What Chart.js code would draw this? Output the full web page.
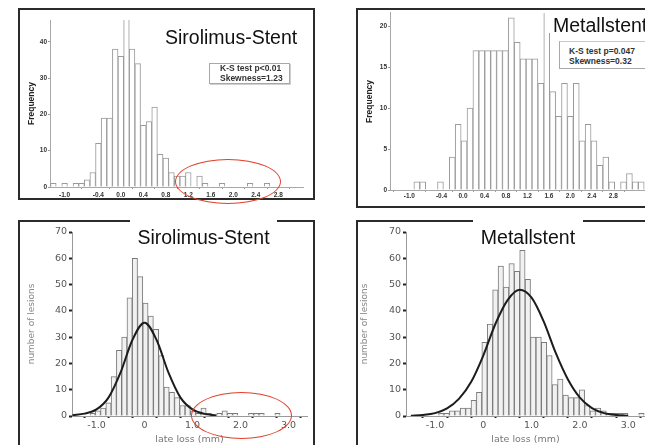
<!DOCTYPE html>
<html>
<head>
<meta charset="utf-8">
<script src="https://cdn.jsdelivr.net/npm/chart.js@4.4.1/dist/chart.umd.min.js"></script>
<style>
body { margin: 0; background: #fff; }
#page { position: relative; width: 645px; height: 445px; overflow: hidden; font-family: "Liberation Sans", Arial, sans-serif; }
.frame { position: absolute; border: 2px solid #2b2b2b; box-sizing: border-box; }
canvas { position: absolute; }
.title { position: absolute; font-size: 19.5px; line-height: 20px; color: #111; white-space: nowrap; box-sizing: border-box; }
.ks { position: absolute; font-size: 8.5px; font-weight: bold; line-height: 9.5px; color: #333; background: #fff; white-space: nowrap; box-sizing: border-box; }
.oval { position: absolute; border: 1px solid #e2402a; border-radius: 50%; box-sizing: border-box; }
</style>
</head>
<body>
<div id="page">
  <div class="frame" style="left:18px;top:8px;width:297px;height:192px"></div>
  <div class="frame" style="left:356px;top:8px;width:300px;height:200px"></div>
  <div class="frame" style="left:18px;top:220px;width:297px;height:240px"></div>
  <div class="frame" style="left:356px;top:220px;width:300px;height:240px"></div>

  <canvas id="tl" width="296" height="191" style="left:18px;top:8px"></canvas>
  <canvas id="tr" width="289" height="199" style="left:356px;top:8px"></canvas>
  <canvas id="bl" width="296" height="225" style="left:18px;top:220px"></canvas>
  <canvas id="br" width="289" height="225" style="left:356px;top:220px"></canvas>

  <div class="title" style="left:165px;top:27px">Sirolimus-Stent</div>
  <div class="title" style="left:548px;top:10px;width:100px;height:23px;padding:5px 0 0 5px;background:#fff">Metallstent</div>
  <div class="title" style="left:130px;top:214px;width:147px;height:32px;padding-top:13px;text-align:center;background:#fff">Sirolimus-Stent</div>
  <div class="title" style="left:473px;top:214px;width:110px;height:32px;padding-top:13px;text-align:center;background:#fff">Metallstent</div>

  <div class="ks" style="left:209px;top:63px;width:81px;height:21px;padding:0 0 0 10px;border:1px solid #a8a8a8;box-shadow:1px 1px 0 #d0d0d0">K-S test p&lt;0.01<br>Skewness=1.23</div>
  <div class="ks" style="left:559px;top:41px;width:90px;height:28px;padding:5px 0 0 9px;border-left:1px solid #a8a8a8;border-top:1px solid #c8c8c8;border-bottom:1px solid #a8a8a8">K-S test p=0.047<br>Skewness=0.32</div>

  <div class="oval" style="left:175px;top:159px;width:106px;height:45px"></div>
  <div class="oval" style="left:191px;top:392px;width:101px;height:47px"></div>
</div>

<script>
// top row: frequency histograms (bin start, bin width, counts)
const tlStart = -1.2
const tlStep = 0.1
const tlCounts = [1,0,1,0,1,1,2,4,12,19,19,38,36,50,38,34,17,18,22,9,8,4,3,3,4,0,3,1,0,0,1,0,0,0,0,1,0,0,1]

const trStart = -0.86
const trStep = 0.11
const trCounts = [1,1,0,0,1,0,4,8,6,10,17,17,17,17,17,17,21,18,16,16,16,13,23,12,9,13,9,13,6,8,6,3,4,1,0,1,2,1,1]

const topXTicks = [-1.0, -0.4, 0.0, 0.4, 0.8, 1.2, 1.6, 2.0, 2.4, 2.8]
const tlYTicks = [0, 10, 20, 30, 40]
const trYTicks = [0, 5, 10, 15, 20]

// bottom row: number of lesions over late loss, with the fitted curve
const blStart = -1.08
const blStep = 0.11
const blCounts = [1,2,3,5,15,25,30,45,60,53,43,38,33,23,11,9,7,4,4,2,1,3,1,0,1,2,1,1,0,0,1,1,1,0,0,1]
const blCurveX = [-1.5,-1.25,-1.0,-0.75,-0.5,-0.25,0,0.25,0.5,0.75,1.0,1.25,1.5]
const blCurveY = [0.3,0.9,2.5,7,16.5,29,35.5,29,16.5,7,2.5,0.8,0.2]

const brStart = -0.87
const brStep = 0.112
const brCounts = [1,1,2,2,3,3,6,9,28,35,48,57,49,58,55,63,52,30,30,28,23,12,14,8,7,7,10,4,2,3,2,1,1,1,1,0,0,1]
const brCurveX = [-1.5,-1.25,-1.0,-0.75,-0.5,-0.25,0,0.25,0.5,0.75,1.0,1.25,1.5,1.75,2.0,2.25,2.5,2.75,3.0]
const brCurveY = [0.1,0.4,1.1,2.9,6.6,13,23,35,44,48,45,36,24,14,7,3,1.1,0.4,0.1]

const lowXTicks = [-1.5, -1.0, -0.5, 0, 0.5, 1.0, 1.5, 2.0, 2.5, 3.0]
const lowYTicks = [0, 10, 20, 30, 40, 50, 60, 70]


const smallBold = {family: '"Liberation Sans", Arial, sans-serif', size: 6.5, weight: 'bold'}
const lowFont = {family: '"DejaVu Sans", Verdana, sans-serif', size: 9.5}

function histChart(id, p) {
  let datasets = []
  if (p.curveX) {
    datasets.push({
      type: 'line',
      data: p.curveX.map((x, i) => ({x: x, y: p.curveY[i]})),
      borderColor: '#1c1c1c',
      borderWidth: 2,
      pointRadius: 0,
      cubicInterpolationMode: 'monotone',
      order: 0
    })
  }
  datasets.push({
    type: 'bar',
    data: p.counts.map((c, i) => ({x: p.start + i * p.step, y: c})),
    backgroundColor: p.fill,
    borderColor: p.edge,
    borderWidth: 1,
    barPercentage: 1,
    categoryPercentage: 1,
    order: 1
  })

  return new Chart(document.getElementById(id), {
    type: 'bar',
    data: {datasets: datasets},
    options: {
      responsive: false,
      animation: false,
      devicePixelRatio: 1,
      events: [],
      layout: {padding: p.pad},
      plugins: {legend: {display: false}, tooltip: {enabled: false}},
      scales: {
        x: {
          type: 'linear',
          min: p.xMin,
          max: p.xMax,
          offset: false,
          afterBuildTicks: s => { s.ticks = p.xTicks.map(v => ({value: v})) },
          afterFit: s => { s.height = p.xH },
          border: {color: p.axisColor, width: 1},
          grid: {drawOnChartArea: false, tickLength: p.xTickLen, tickWidth: p.xTickW, tickColor: p.tickColor},
          ticks: {autoSkip: false, maxRotation: 0, padding: p.xPad, color: p.labelColor, font: p.font, callback: p.xFmt},
          title: p.xTitle ? {display: true, text: p.xTitle, color: '#777', font: lowFont, padding: {top: 0, bottom: 0}} : {display: false}
        },
        y: {
          min: 0,
          max: p.yMax,
          afterBuildTicks: s => { s.ticks = p.yTicks.map(v => ({value: v})) },
          afterFit: s => { s.width = p.yW },
          border: {color: p.axisColor, width: 1},
          grid: {drawOnChartArea: false, tickLength: p.yTickLen, tickWidth: p.yTickW, tickColor: p.tickColor},
          ticks: {autoSkip: false, padding: p.yPad, color: p.labelColor, font: p.font},
          title: {display: true, text: p.yTitle, color: p.yTitleColor, font: p.yTitleFont, padding: {top: p.yTitlePad, bottom: 0}}
        }
      }
    }
  })
}

const topStyle = {
  fill: '#ffffff', edge: '#9a9a9a', axisColor: '#a8a8a8', tickColor: '#9a9a9a', labelColor: '#333',
  font: smallBold, xTickLen: 2, xTickW: 1, yTickLen: 2, yTickW: 1, yPad: 1,
  xTicks: topXTicks, xFmt: v => v.toFixed(1),
  yTitle: 'Frequency', yTitleColor: '#222', yTitlePad: 9,
  yTitleFont: {family: '"Liberation Sans", Arial, sans-serif', size: 8.5, weight: 'bold'}
}

const lowStyle = {
  fill: '#f1f1f1', edge: '#7a7a7a', axisColor: '#9a9a9a', tickColor: '#222', labelColor: '#555',
  font: lowFont, xTickLen: 2, xTickW: 2, yTickLen: 3, yTickW: 2, yPad: 2, xPad: 2,
  xTicks: lowXTicks, yTicks: lowYTicks, yMax: 70, xH: 29,
  xFmt: v => Number.isInteger(v) ? (v === 0 ? '0' : v.toFixed(1)) : '',
  xTitle: 'late loss (mm)',
  yTitle: 'number of lesions', yTitleColor: '#888',
  yTitleFont: {family: '"DejaVu Sans", Verdana, sans-serif', size: 9}
}

histChart('tl', Object.assign({}, topStyle, {
  start: tlStart, step: tlStep, counts: tlCounts, yTicks: tlYTicks,
  pad: {left: 0, top: 12, right: 11, bottom: 0}, yW: 32, xH: 12, xPad: 2.5,
  xMin: -1.26, xMax: 3.24, yMax: 46
}))

histChart('tr', Object.assign({}, topStyle, {
  start: trStart, step: trStep, counts: trCounts, yTicks: trYTicks,
  pad: {left: 0, top: 4, right: 0, bottom: 0}, yW: 34, xH: 17, xPad: 0.5,
  xMin: -1.36, xMax: 3.39, yMax: 21.6
}))

histChart('bl', Object.assign({}, lowStyle, {
  start: blStart, step: blStep, counts: blCounts, curveX: blCurveX, curveY: blCurveY,
  pad: {left: 0, top: 12, right: 7, bottom: 0}, yW: 54, yTitlePad: 8.3,
  xMin: -1.51, xMax: 3.385
}))

histChart('br', Object.assign({}, lowStyle, {
  start: brStart, step: brStep, counts: brCounts, curveX: brCurveX, curveY: brCurveY,
  pad: {left: 0, top: 12, right: 0, bottom: 0}, yW: 50, yTitlePad: 3.6,
  xMin: -1.6, xMax: 3.348
}))
</script>
</body>
</html>
